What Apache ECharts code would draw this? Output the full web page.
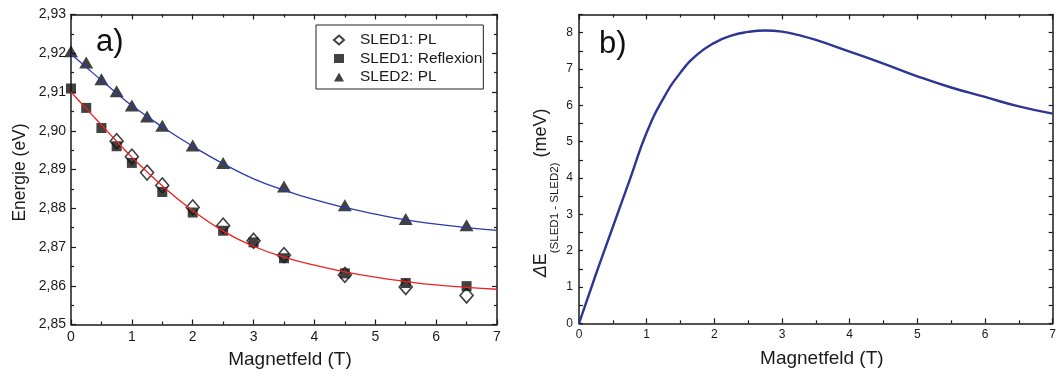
<!DOCTYPE html>
<html>
<head>
<meta charset="utf-8">
<script src="https://cdn.jsdelivr.net/npm/echarts@6/dist/echarts.min.js"></script>
<style>
  html, body { margin: 0; padding: 0; background: #fff; }
  #chart { width: 1059px; height: 378px; }
</style>
</head>
<body>
<div id="chart"></div>
<script>
// Panel a): measured peak energies (eV) vs magnetic field (T)
const sled1PLField = [0.75, 1, 1.25, 1.5, 2, 2.5, 3, 3.5, 4.5, 5.5, 6.5];
const sled1PLEnergy = [2.8973, 2.8933, 2.8892, 2.8859, 2.8802, 2.8755, 2.8716, 2.8679, 2.8628, 2.8597, 2.8575];

const sled1ReflField = [0, 0.25, 0.5, 0.75, 1, 1.5, 2, 2.5, 3, 3.5, 4.5, 5.5, 6.5];
const sled1ReflEnergy = [2.9109, 2.9059, 2.9007, 2.8960, 2.8917, 2.8842, 2.8789, 2.8742, 2.8712, 2.8671, 2.8632, 2.8607, 2.8599];

const sled2PLField = [0, 0.25, 0.5, 0.75, 1, 1.25, 1.5, 2, 2.5, 3.5, 4.5, 5.5, 6.5];
const sled2PLEnergy = [2.9205, 2.9176, 2.9133, 2.9102, 2.9065, 2.9037, 2.9013, 2.8962, 2.8917, 2.8856, 2.8808, 2.8772, 2.8756];

// Fit curves through the data
const fitField = [0, 0.25, 0.5, 0.75, 1, 1.5, 2, 2.5, 3, 3.5, 4, 4.5, 5, 5.5, 6, 6.5, 7];
const fitSled1 = [2.9100, 2.9057, 2.9015, 2.8973, 2.8932, 2.8858, 2.8794, 2.8741, 2.8702, 2.8674, 2.8653, 2.8636, 2.8622, 2.8611, 2.8602, 2.8596, 2.8591];
const fitSled2 = [2.9198, 2.9164, 2.9130, 2.9097, 2.9065, 2.9010, 2.8960, 2.8915, 2.8876, 2.8847, 2.8822, 2.8802, 2.8785, 2.8770, 2.8759, 2.8750, 2.8743];

// Panel b): energy splitting (meV) vs magnetic field (T)
const deltaField = [0, 0.25, 0.5, 0.75, 1, 1.25, 1.5, 1.75, 2, 2.25, 2.5, 2.75, 3, 3.25, 3.5, 4, 4.5, 5, 5.5, 6, 6.5, 7];
const deltaE = [0, 1.35, 2.65, 3.95, 5.25, 6.2, 6.9, 7.4, 7.72, 7.92, 8.02, 8.06, 8.03, 7.93, 7.8, 7.48, 7.15, 6.8, 6.49, 6.23, 5.97, 5.77];

// Axis tick values
const fieldTicks = [0, 1, 2, 3, 4, 5, 6, 7];
const deltaTicks = [0, 1, 2, 3, 4, 5, 6, 7, 8];

const zip = (xs, ys) => xs.map((x, i) => [x, ys[i]]);

const FONT = '"Liberation Sans", Arial, sans-serif';
const AXIS_COLOR = '#1a1a1a';

function xAxisFor(gridIndex, labelSize, labelMargin, withName, top) {
  const ax = {
    type: 'value',
    gridIndex: gridIndex,
    position: top ? 'top' : 'bottom',
    min: 0, max: 7, interval: 1,
    axisLine: { show: true, onZero: false, lineStyle: { color: AXIS_COLOR, width: 1.5 } },
    axisTick: { show: true, inside: true, length: 5, lineStyle: { color: AXIS_COLOR, width: 1.2 } },
    minorTick: { show: true, splitNumber: 2, length: 3, lineStyle: { color: AXIS_COLOR, width: 1.2 } },
    splitLine: { show: false },
    axisLabel: {
      show: !top, fontSize: labelSize, margin: labelMargin, color: AXIS_COLOR, fontFamily: FONT,
      customValues: fieldTicks
    }
  };
  if (withName) {
    ax.name = 'Magnetfeld (T)';
    ax.nameLocation = 'middle';
    ax.nameGap = 26;
    ax.nameTextStyle = { fontSize: 19, color: AXIS_COLOR, fontFamily: FONT, padding: [0, 0, 0, 12] };
  }
  return ax;
}

const chart = echarts.init(document.getElementById('chart'), null, { renderer: 'canvas' });

const option = {
  animation: false,
  backgroundColor: '#fff',
  textStyle: { fontFamily: FONT },
  grid: [
    { left: 71, right: 562, top: 14.5, bottom: 53.5 },
    { left: 579, right: 1, top: 14.5, bottom: 54.7 }
  ],
  xAxis: [
    xAxisFor(0, 14, 6, true, false),
    xAxisFor(0, 14, 6, false, true),
    xAxisFor(1, 12, 5, true, false),
    xAxisFor(1, 12, 5, false, true)
  ],
  yAxis: [
    {
      type: 'value', gridIndex: 0, position: 'left',
      min: 2.85, max: 2.93, interval: 0.01,
      axisLine: { show: true, onZero: false, lineStyle: { color: AXIS_COLOR, width: 1.5 } },
      axisTick: { show: true, inside: true, length: 5, lineStyle: { color: AXIS_COLOR, width: 1.2 } },
      minorTick: { show: true, splitNumber: 2, length: 3, lineStyle: { color: AXIS_COLOR, width: 1.2 } },
      splitLine: { show: false },
      axisLabel: {
        fontSize: 14, margin: 5, color: AXIS_COLOR, fontFamily: FONT,
        formatter: v => v.toFixed(2).replace('.', ',')
      },
      name: 'Energie (eV)', nameLocation: 'middle', nameGap: 42,
      nameTextStyle: { fontSize: 17.5, color: AXIS_COLOR, fontFamily: FONT, padding: [0, 6, 0, 0] }
    },
    {
      type: 'value', gridIndex: 0, position: 'right',
      min: 2.85, max: 2.93, interval: 0.01,
      axisLine: { show: true, onZero: false, lineStyle: { color: AXIS_COLOR, width: 1.5 } },
      axisTick: { show: true, inside: true, length: 5, lineStyle: { color: AXIS_COLOR, width: 1.2 } },
      minorTick: { show: true, splitNumber: 2, length: 3, lineStyle: { color: AXIS_COLOR, width: 1.2 } },
      splitLine: { show: false },
      axisLabel: { show: false }
    },
    {
      type: 'value', gridIndex: 1, position: 'left',
      min: 0, max: 8.5, interval: 0.5,
      axisLine: { show: true, onZero: false, lineStyle: { color: AXIS_COLOR, width: 1.5 } },
      axisTick: { show: true, inside: true, length: 4, lineStyle: { color: AXIS_COLOR, width: 1.2 } },
      splitLine: { show: false },
      axisLabel: {
        fontSize: 12, margin: 6, color: AXIS_COLOR, fontFamily: FONT,
        customValues: deltaTicks
      },
      name: '{d|Δ}{e|E}{s|(SLED1 - SLED2)}{u| (meV)}',
      nameLocation: 'middle', nameGap: 18,
      nameTextStyle: {
        color: AXIS_COLOR, fontFamily: FONT, padding: [0, 48, 0, 0],
        rich: {
          d: { fontSize: 18, fontStyle: 'italic', color: AXIS_COLOR, fontFamily: FONT },
          e: { fontSize: 18, color: AXIS_COLOR, fontFamily: FONT },
          s: { fontSize: 11.5, color: AXIS_COLOR, fontFamily: FONT, verticalAlign: 'bottom', lineHeight: 40 },
          u: { fontSize: 18, color: AXIS_COLOR, fontFamily: FONT }
        }
      }
    },
    {
      type: 'value', gridIndex: 1, position: 'right',
      min: 0, max: 8.5, interval: 0.5,
      axisLine: { show: true, onZero: false, lineStyle: { color: AXIS_COLOR, width: 1.5 } },
      axisTick: { show: true, inside: true, length: 4, lineStyle: { color: AXIS_COLOR, width: 1.2 } },
      splitLine: { show: false },
      axisLabel: { show: false }
    }
  ],
  legend: {
    orient: 'vertical',
    left: 316, top: 25,
    padding: [7, 1, 4, 17],
    itemWidth: 10, itemHeight: 9, itemGap: 2.5,
    borderColor: '#222', borderWidth: 1,
    textStyle: { fontSize: 15.5, lineHeight: 15, color: AXIS_COLOR, fontFamily: FONT, padding: [0, 0, 0, 11] },
    data: ['SLED1: PL', 'SLED1: Reflexion', 'SLED2: PL']
  },
  graphic: [
    { type: 'text', left: 96, top: 27, style: { text: 'a)', fontSize: 31, fill: '#111', fontFamily: FONT } },
    { type: 'text', left: 599, top: 29, style: { text: 'b)', fontSize: 31, fill: '#111', fontFamily: FONT } }
  ],
  series: [
    {
      name: 'SLED1: PL', type: 'scatter', xAxisIndex: 0, yAxisIndex: 0,
      symbol: 'diamond', symbolSize: [13, 15],
      itemStyle: { color: '#fff', borderColor: '#111', borderWidth: 1.6 },
      data: zip(sled1PLField, sled1PLEnergy), z: 2
    },
    {
      name: 'SLED1: Reflexion', type: 'scatter', xAxisIndex: 0, yAxisIndex: 0,
      symbol: 'rect', symbolSize: 10,
      itemStyle: { color: '#111' },
      data: zip(sled1ReflField, sled1ReflEnergy), z: 3
    },
    {
      name: 'SLED2: PL', type: 'scatter', xAxisIndex: 0, yAxisIndex: 0,
      symbol: 'triangle', symbolSize: [14, 12],
      itemStyle: { color: '#111' },
      data: zip(sled2PLField, sled2PLEnergy), z: 3
    },
    {
      name: 'fit SLED1', type: 'line', xAxisIndex: 0, yAxisIndex: 0,
      smooth: true, showSymbol: false, symbol: 'none',
      lineStyle: { color: '#f02020', width: 1.3 },
      data: zip(fitField, fitSled1), z: 4
    },
    {
      name: 'fit SLED2', type: 'line', xAxisIndex: 0, yAxisIndex: 0,
      smooth: true, showSymbol: false, symbol: 'none',
      lineStyle: { color: '#2a3aa8', width: 1.3 },
      data: zip(fitField, fitSled2), z: 4
    },
    {
      name: 'ΔE', type: 'line', xAxisIndex: 2, yAxisIndex: 2,
      smooth: true, showSymbol: false, symbol: 'none',
      lineStyle: { color: '#2c3593', width: 2.4 },
      data: zip(deltaField, deltaE)
    }
  ]
};

chart.setOption(option);
</script>
</body>
</html>
